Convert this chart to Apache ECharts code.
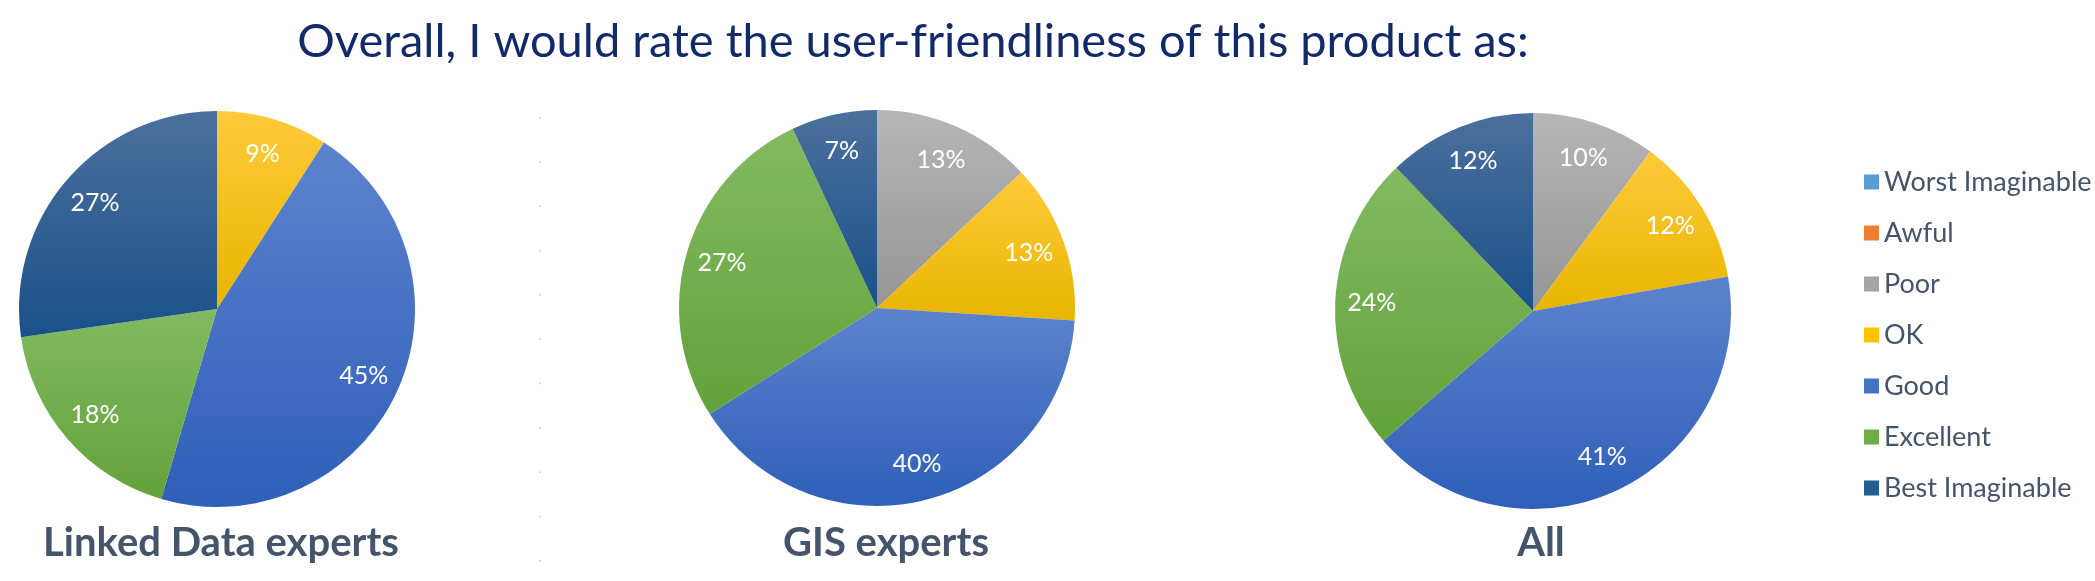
<!DOCTYPE html>
<html>
<head>
<meta charset="utf-8">
<script src="https://cdn.jsdelivr.net/npm/echarts@6/dist/echarts.min.js"></script>
<style>
  html, body { margin: 0; padding: 0; background: #fff; }
  #chart { width: 2095px; height: 581px; }
</style>
</head>
<body>
<div id="chart"></div>
<script>
// rating categories, in the order Office draws them (clockwise from 12 o'clock)
const categories = ['Worst Imaginable', 'Awful', 'Poor', 'OK', 'Good', 'Excellent', 'Best Imaginable'];
const groups = ['Linked Data experts', 'GIS experts', 'All'];

// shares in percent, as printed on the slices
const linkedDataExperts = [0, 0, 0, 9, 45, 18, 27];
const gisExperts = [0, 0, 13, 13, 40, 27, 7];
const allUsers = [0, 0, 10, 12, 41, 24, 12];

const groupValues = [linkedDataExperts, gisExperts, allUsers];

// base colour + top/bottom gradient stops per category
const baseColors = ['#5B9BD5', '#ED7D31', '#A5A5A5', '#FFC000', '#4472C4', '#70AD47', '#255E91'];
const gradColors = [
  ['#74ace0', '#4a8ccb'],
  ['#f29256', '#e06c1e'],
  ['#b6b6b6', '#959595'],
  ['#ffca3a', '#e8b500'],
  ['#5c83cd', '#2f5fb9'],
  ['#82ba61', '#62a23a'],
  ['#4b709d', '#1a5189']
];

const FONT = 'Lato, "Open Sans", sans-serif';
const centers = [[217, 309], [877, 308], [1533, 311]];
const R = 198;

const grad = (i) => new echarts.graphic.LinearGradient(0, 0, 0, 1, [
  { offset: 0, color: gradColors[i][0] },
  { offset: 1, color: gradColors[i][1] }
]);

const series = [];
groupValues.forEach((vals, g) => {
  const data = categories.map((name, i) => ({
    name,
    value: vals[i],
    itemStyle: { color: grad(i) }
  }));
  series.push({
    name: groups[g],
    type: 'pie',
    center: centers[g],
    radius: [0, R],
    startAngle: 90,
    clockwise: true,
    avoidLabelOverlap: false,
    animation: false,
    label: { show: false },
    labelLine: { show: false },
    itemStyle: { borderWidth: 0 },
    emphasis: { disabled: true },
    data
  });
  // transparent ring only for placing labels at ~0.8 of the radius
  series.push({
    name: groups[g] + ' labels',
    type: 'pie',
    center: centers[g],
    radius: [R * 0.6, R],
    startAngle: 90,
    clockwise: true,
    silent: true,
    animation: false,
    avoidLabelOverlap: false,
    itemStyle: { color: 'rgba(0,0,0,0)' },
    label: {
      show: true,
      position: 'inside',
      color: '#fff',
      fontFamily: FONT,
      fontSize: 25,
      formatter: (p) => (p.value > 0 ? p.value + '%' : '')
    },
    labelLine: { show: false },
    emphasis: { disabled: true },
    data: categories.map((name, i) => ({ name, value: vals[i] }))
  });
});

const chart = echarts.init(document.getElementById('chart'));
chart.setOption({
  backgroundColor: '#fff',
  title: [
    {
      text: 'Overall, I would rate the user-friendliness of this product as:',
      left: 908, top: 13, textAlign: 'center',
      textStyle: { fontFamily: FONT, fontWeight: 'normal', fontSize: 47, color: '#122a6a' }
    },
    ...groups.map((t, g) => ({
      text: t,
      left: [216, 881, 1536][g], top: 518, textAlign: 'center',
      textStyle: { fontFamily: FONT, fontWeight: 'bold', fontSize: 40, color: '#44546A' }
    }))
  ],
  legend: {
    orient: 'vertical',
    left: 1859,
    top: 163,
    icon: 'rect',
    itemWidth: 15,
    itemHeight: 15,
    itemGap: 23,
    selectedMode: false,
    textStyle: { fontFamily: FONT, fontSize: 27, color: '#44546A', lineHeight: 28 },
    data: categories.map((name, i) => ({ name, itemStyle: { color: baseColors[i] } }))
  },
  graphic: [
    {
      type: 'line',
      shape: { x1: 540, y1: 117, x2: 540, y2: 562 },
      style: { stroke: '#c9c9c9', lineWidth: 1.5, lineDash: [1.5, 42.8] },
      silent: true
    }
  ],
  series
});
window.addEventListener('resize', () => chart.resize());
</script>
</body>
</html>
